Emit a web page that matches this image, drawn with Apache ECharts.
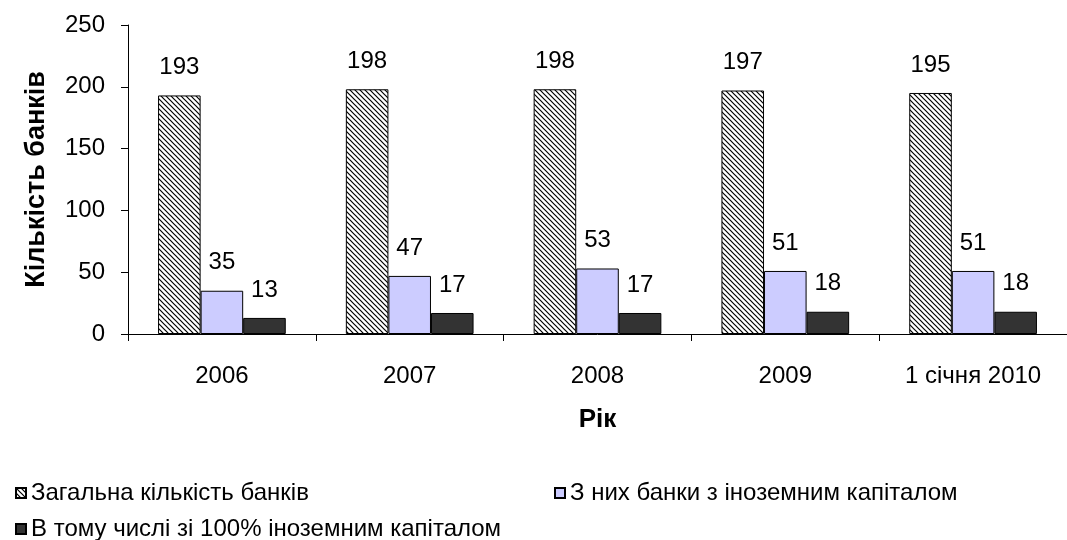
<!DOCTYPE html>
<html>
<head>
<meta charset="utf-8">
<script src="https://cdn.jsdelivr.net/npm/echarts@6/dist/echarts.min.js"></script>
<style>
html,body{margin:0;padding:0;background:#fff;}
#chart{width:1067px;height:540px;}
</style>
</head>
<body>
<div id="chart"></div>
<script>
const categories = ['2006', '2007', '2008', '2009', '1 січня 2010'];
const totalBanks = [193, 198, 198, 197, 195];
const foreignBanks = [35, 47, 53, 51, 51];
const fullForeignBanks = [13, 17, 17, 18, 18];
const seriesNames = ['Загальна кількість банків', 'З них банки з іноземним капіталом', 'В тому числі зі 100% іноземним капіталом'];
const yTicks = {min: 0, max: 250, interval: 50};

function hatch() {
  const s = 5;
  const c = document.createElement('canvas');
  c.width = s; c.height = s;
  const g = c.getContext('2d');
  g.fillStyle = '#fff';
  g.fillRect(0, 0, s, s);
  g.strokeStyle = '#000';
  g.lineWidth = 1.2;
  g.beginPath();
  g.moveTo(-1, -1); g.lineTo(s + 1, s + 1);
  g.moveTo(-1, s - 1); g.lineTo(1, s + 1);
  g.moveTo(s - 1, -1); g.lineTo(s + 1, 1);
  g.stroke();
  return c;
}

const FONT = 'Liberation Sans, Arial, sans-serif';
const chart = echarts.init(document.getElementById('chart'), null, {renderer: 'canvas'});
const lbl = {show: true, position: 'top', distance: 16, fontSize: 24, color: '#000', fontFamily: FONT};
const legendBase = {
  orient: 'horizontal', itemWidth: 10, itemHeight: 10, icon: 'rect', itemGap: 8,
  textStyle: {fontSize: 24, color: '#000', fontFamily: FONT}
};
chart.setOption({
  animation: false,
  backgroundColor: '#fff',
  textStyle: {fontFamily: FONT},
  grid: {left: 128, top: 25, width: 945, height: 309, containLabel: false},
  legend: [
    Object.assign({}, legendBase, {left: 10, top: 476, data: [seriesNames[0]]}),
    Object.assign({}, legendBase, {left: 549, top: 476, data: [seriesNames[1]]}),
    Object.assign({}, legendBase, {left: 10, top: 512, data: [seriesNames[2]]})
  ],
  xAxis: {
    type: 'category', data: categories,
    axisLine: {lineStyle: {color: '#000', width: 1}},
    axisTick: {show: true, length: 7, alignWithLabel: false, lineStyle: {color: '#000'}},
    axisLabel: {fontSize: 24, color: '#000', margin: 30, fontFamily: FONT},
    name: 'Рік', nameLocation: 'middle', nameGap: 73,
    nameTextStyle: {fontSize: 26, fontWeight: 'bold', color: '#000', fontFamily: FONT}
  },
  yAxis: {
    type: 'value', min: yTicks.min, max: yTicks.max, interval: yTicks.interval,
    splitLine: {show: false},
    axisLine: {show: true, lineStyle: {color: '#000', width: 1}},
    axisTick: {show: true, length: 7, lineStyle: {color: '#000'}},
    axisLabel: {fontSize: 24, color: '#000', margin: 23, fontFamily: FONT},
    name: 'Кількість банків', nameLocation: 'middle', nameGap: 78, nameRotate: 90,
    nameTextStyle: {fontSize: 27, fontWeight: 'bold', color: '#000', fontFamily: FONT}
  },
  series: [
    {name: seriesNames[0], type: 'bar', data: totalBanks, barGap: '0%', barCategoryGap: '32%',
     itemStyle: {color: {image: hatch(), repeat: 'repeat'}, borderColor: '#000', borderWidth: 1}, label: lbl},
    {name: seriesNames[1], type: 'bar', data: foreignBanks, barGap: '0%', barCategoryGap: '32%',
     itemStyle: {color: '#ccccff', borderColor: '#000', borderWidth: 1}, label: lbl},
    {name: seriesNames[2], type: 'bar', data: fullForeignBanks, barGap: '0%', barCategoryGap: '32%',
     itemStyle: {color: '#333333', borderColor: '#000', borderWidth: 1}, label: lbl}
  ]
});
</script>
</body>
</html>
